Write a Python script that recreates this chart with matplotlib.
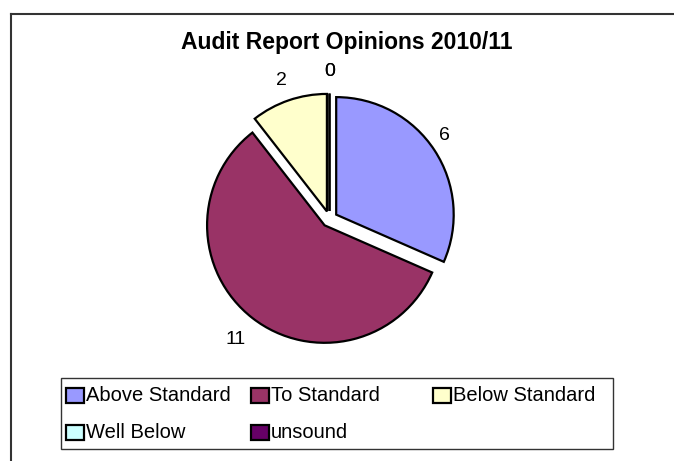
import numpy as np
import matplotlib
matplotlib.use("Agg")
import matplotlib.pyplot as plt
from matplotlib.patches import Rectangle

plt.rcParams['font.family'] = ['Liberation Sans', 'DejaVu Sans']

# data
categories = ['Above Standard', 'To Standard', 'Below Standard', 'Well Below', 'unsound']
values = [6, 11, 2, 0, 0]
colors = ['#9999FF', '#993366', '#FFFFCC', '#CCFFFF', '#660066']
title = 'Audit Report Opinions 2010/11'

W, H = 674, 461
fig = plt.figure(figsize=(W / 100, H / 100), dpi=100)

# pie axes in pixel-like units, radius = 1 -> 117.5 px
R = 117.5
cx, cy = 329.5, 219
ax = fig.add_axes([0, 0, 1, 1])
wedges, texts = ax.pie(values, colors=colors, startangle=90, counterclock=False,
                       explode=[0.068] * len(values), labels=[str(v) for v in values],
                       wedgeprops=dict(edgecolor='black', linewidth=1.6),
                       textprops=dict(fontsize=14, color='black'))

# put the data labels around each wedge (Excel style, centred)
label_dist = [1.14, 1.23, 1.18, 1.19, 1.19]
label_turn = [3, 0, 0, 0, 0]  # small angular nudge, degrees
for w, t, d, da in zip(wedges, texts, label_dist, label_turn):
    ang = np.deg2rad((w.theta1 + w.theta2) / 2 + da)
    x0, y0 = w.center
    t.set_position((x0 + d * np.cos(ang), y0 + d * np.sin(ang)))
    t.set_ha('center')
    t.set_va('center')

ax.set_aspect('auto')
ax.set_xlim(-cx / R, (W - cx) / R)
ax.set_ylim(-(H - cy) / R, cy / R)
ax.axis('off')

# title
fig.text(346.5 / W, 1 - 43 / H, title, fontsize=16.5, fontweight='bold',
         ha='center', va='center')

# chart area border (top and left visible)
fig.add_artist(plt.Line2D([11 / W, 1], [1 - 14 / H, 1 - 14 / H], color='#333333', lw=1.5))
fig.add_artist(plt.Line2D([11 / W, 11 / W], [0, 1 - 14 / H], color='#333333', lw=1.5))

# legend drawn by hand to match the equal-width columns
lx0, ly0, lx1, ly1 = 61, 378, 613, 449
fig.add_artist(Rectangle((lx0 / W, 1 - ly1 / H), (lx1 - lx0) / W, (ly1 - ly0) / H,
                         transform=fig.transFigure, facecolor='white',
                         edgecolor='#333333', lw=1))
col_x = [66, 251, 433]
row_y = [395, 432]
pw, ph = 18, 15
for i, (name, c) in enumerate(zip(categories, colors)):
    px = col_x[i % 3]
    py = row_y[i // 3]
    fig.add_artist(Rectangle((px / W, 1 - (py + ph / 2) / H), pw / W, ph / H,
                             transform=fig.transFigure, facecolor=c,
                             edgecolor='black', lw=1.6))
    fig.text((px + pw + 2) / W, 1 - py / H, name, fontsize=14.5,
             ha='left', va='center')

fig.savefig('out.png', dpi=100)
